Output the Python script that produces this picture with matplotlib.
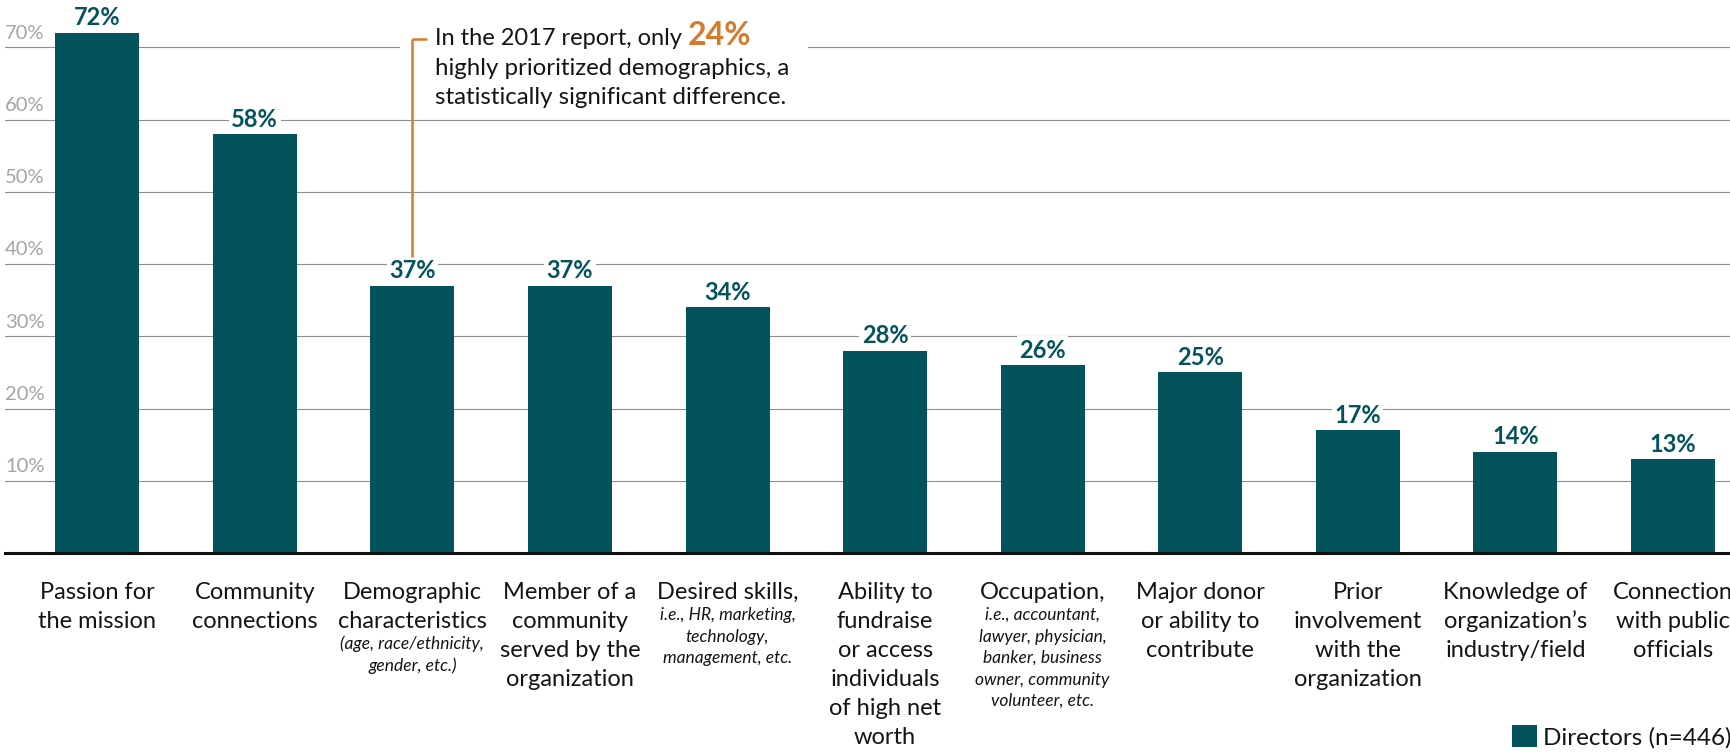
import matplotlib.pyplot as plt
import matplotlib.transforms as mtransforms
from matplotlib.patches import Rectangle
import numpy as np

plt.rcParams["font.family"] = ["Lato", "DejaVu Sans"]

TEAL = "#03535D"
ORANGE = "#D67B2B"
GRID = "#8E8E8E"
TICK_GREY = "#A4A4A4"
INK = "#141414"

values = [72, 58, 37, 37, 34, 28, 26, 25, 17, 14, 13]
main_labels = [
    "Passion for\nthe mission",
    "Community\nconnections",
    "Demographic\ncharacteristics",
    "Member of a\ncommunity\nserved by the\norganization",
    "Desired skills,",
    "Ability to\nfundraise\nor access\nindividuals\nof high net\nworth",
    "Occupation,",
    "Major donor\nor ability to\ncontribute",
    "Prior\ninvolvement\nwith the\norganization",
    "Knowledge of\norganization\u2019s\nindustry/field",
    "Connection\nwith public\nofficials",
]
sub_labels = [
    "",
    "",
    "(age, race/ethnicity,\ngender, etc.)",
    "",
    "i.e., HR, marketing,\ntechnology,\nmanagement, etc.",
    "",
    "i.e., accountant,\nlawyer, physician,\nbanker, business\nowner, community\nvolunteer, etc.",
    "",
    "",
    "",
    "",
]
grid_ticks = [10, 20, 30, 40, 50, 60, 70]
series_name = "Directors (n=446)"
note_lines = ["In the 2017 report, only ", "highly prioritized demographics, a",
              "statistically significant difference."]
note_value = "24%"
note_index = 2

fig = plt.figure(figsize=(17.3, 7.52), dpi=100)
ax = fig.add_axes([0.003, 0.2646, 0.997, 0.730])

x = np.arange(len(values))
bars = ax.bar(x, values, width=0.533, color=TEAL, zorder=2, label=series_name)
ax.set_xlim(-0.584, len(values) - 1 + 0.362)
ax.set_ylim(0, 76)

for s in ["top", "left", "right"]:
    ax.spines[s].set_visible(False)
ax.spines["bottom"].set_linewidth(2.2)
ax.spines["bottom"].set_color("#111111")
ax.set_xticks([])
ax.set_yticks([])

# grid lines with their labels sitting above, at the far left
ylab = mtransforms.blended_transform_factory(ax.transAxes, ax.transData)
for v in grid_ticks:
    ax.axhline(v, color=GRID, lw=0.8, zorder=0)
    ax.text(0.0, v + 1.2, f"{v}%", transform=ylab, ha="left", va="baseline",
            fontsize=14.5, color=TICK_GREY)

# value labels on top of the bars
ax.bar_label(bars, labels=[f"{v}%" for v in values], padding=2.5, fontsize=17,
             fontweight="bold", color=TEAL, zorder=3,
             bbox=dict(boxstyle="square,pad=0.1", fc="white", ec="none"))

# category labels below the axis, one line at a time
px = 0.72  # points per pixel at 100 dpi
for i, (main, sub) in enumerate(zip(main_labels, sub_labels)):
    y = 39.0
    rows = main.split("\n")
    for k, line in enumerate(rows):
        ax.annotate(line, xy=(i, 0), xytext=(0, -(y + 29.0 * k) * px),
                    textcoords="offset points", ha="center", va="center",
                    fontsize=17, color=INK, annotation_clip=False)
    if sub:
        y0 = y + 29.0 * (len(rows) - 1) + 23.0
        for k, line in enumerate(sub.split("\n")):
            ax.annotate(line, xy=(i, 0), xytext=(0, -(y0 + 21.5 * k) * px),
                        textcoords="offset points", ha="center", va="center",
                        fontsize=12.5, style="italic", color=INK,
                        annotation_clip=False)

# callout about the 2017 figure
ax.add_patch(Rectangle((1.92, 61.2), 2.59, 14.0, fc="white", ec="none", zorder=1))
ax.plot([note_index, note_index], [41.0, 71.2], color=ORANGE, lw=1.8, zorder=3,
        solid_capstyle="butt")
ax.plot([note_index, note_index + 0.095], [71.2, 71.2], color=ORANGE, lw=1.8,
        zorder=3, solid_capstyle="butt")
t1 = ax.text(note_index + 0.145, 70.3, note_lines[0], ha="left", va="baseline",
             fontsize=17, color=INK, zorder=4)
ax.annotate(note_value, xy=(1.0, 70.3), xycoords=(t1, "data"), ha="left",
            va="baseline", fontsize=23, fontweight="bold", color=ORANGE, zorder=4)
for k, line in enumerate(note_lines[1:]):
    ax.text(note_index + 0.145, 66.2 - 4.0 * k, line, ha="left", va="baseline",
            fontsize=17.3, color=INK, zorder=4)

leg = fig.legend(handles=[bars], labels=[series_name], loc="center left",
                 bbox_to_anchor=(0.874, 0.020), frameon=False, fontsize=17.5,
                 handlelength=1.02, handleheight=1.02, handletextpad=0.26,
                 borderaxespad=0, borderpad=0)
for t in leg.get_texts():
    t.set_color(INK)

fig.savefig("out.png", dpi=100)
